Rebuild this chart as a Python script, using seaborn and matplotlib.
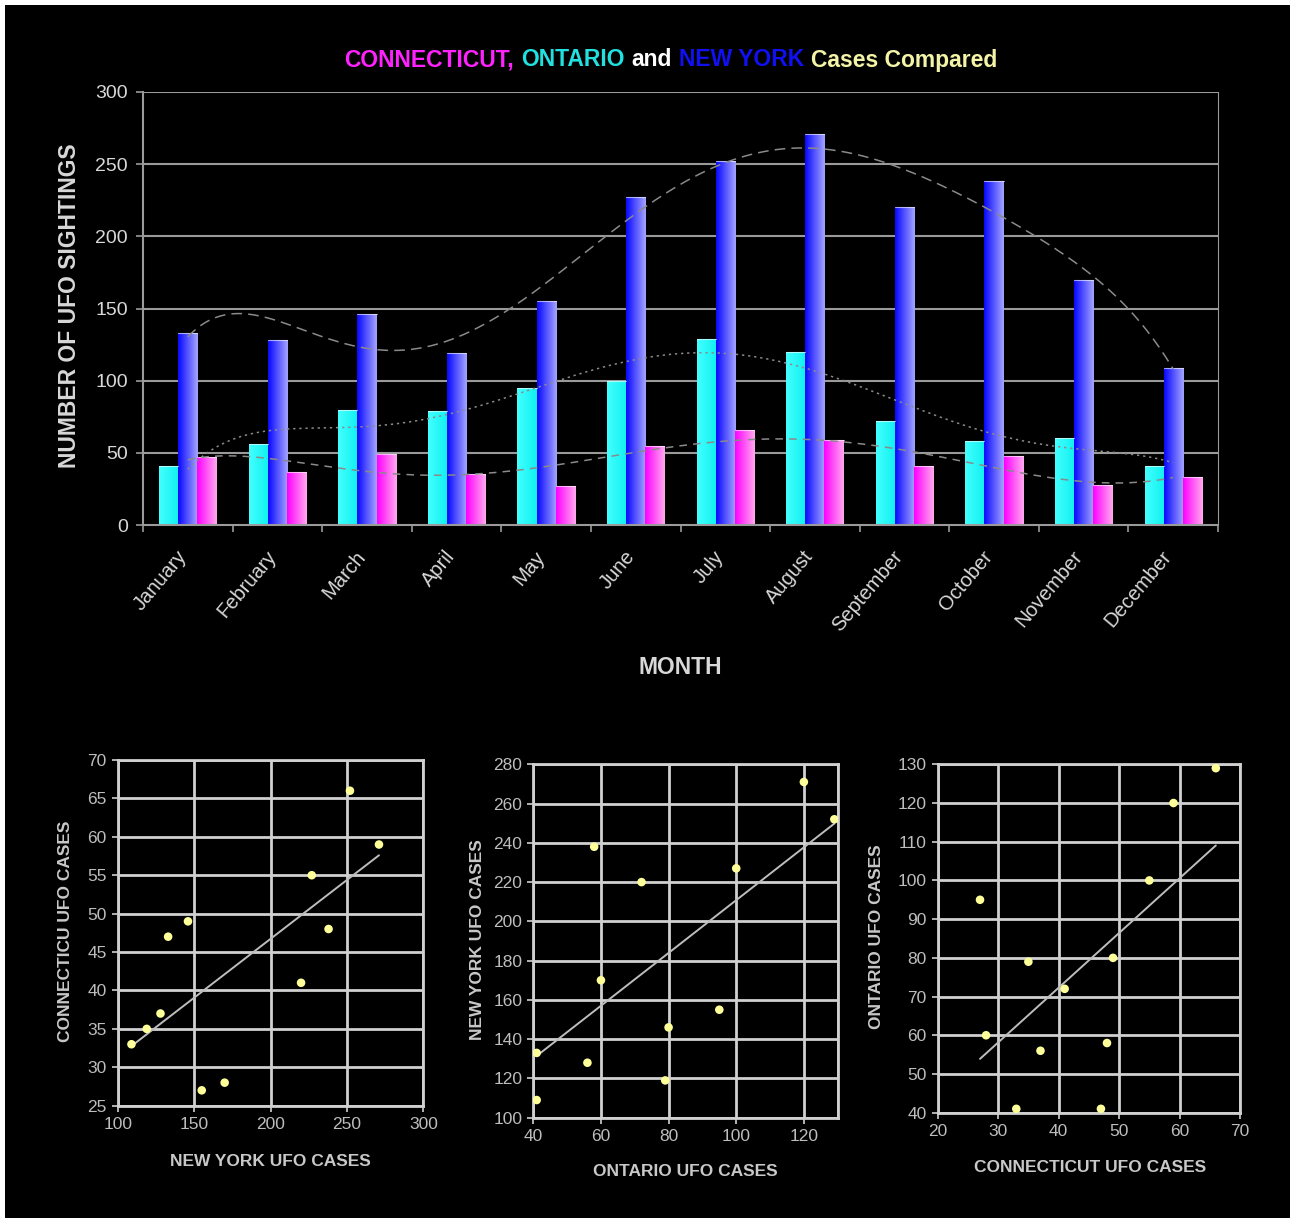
import numpy as np
import pandas as pd
import matplotlib
matplotlib.use("Agg")
import matplotlib.pyplot as plt
import matplotlib.transforms as mtransforms
import seaborn as sns
from matplotlib.offsetbox import TextArea, HPacker, AnnotationBbox
from matplotlib.patches import Rectangle
from matplotlib.colors import to_rgb

# ---------------- data ----------------
months = ["January", "February", "March", "April", "May", "June",
          "July", "August", "September", "October", "November", "December"]
ontario = [41, 56, 80, 79, 95, 100, 129, 120, 72, 58, 60, 41]
new_york = [133, 128, 146, 119, 155, 227, 252, 271, 220, 238, 170, 109]
connecticut = [47, 37, 49, 35, 27, 55, 66, 59, 41, 48, 28, 33]
series_names = ["ONTARIO", "NEW YORK", "CONNECTICUT"]
y_ticks_main = [0, 50, 100, 150, 200, 250, 300]

# ---------------- style ----------------
sns.set_theme(style="dark")
plt.rcParams["font.family"] = ["Liberation Sans", "DejaVu Sans"]
TXT = "#d8d8d8"
GRID = "#9a9a9a"

fig = plt.figure(figsize=(12.96, 12.24), dpi=100, facecolor="white")
W, H = 1296.0, 1224.0
fig.patches.append(Rectangle((5 / W, 6 / H), 1285 / W, 1213 / H, transform=fig.transFigure,
                             facecolor="black", edgecolor="none", zorder=-10))


def ax_px(left, top, right, bottom):
    return fig.add_axes([left / W, 1 - bottom / H, (right - left) / W, (bottom - top) / H])


# ---------------- top bar chart ----------------
ax = ax_px(143, 92, 1218, 525)
ax.set_facecolor("black")
df = pd.DataFrame({
    "month": months * 3,
    "value": ontario + new_york + connecticut,
    "series": sum([[s] * 12 for s in series_names], []),
})
sns.barplot(data=df, x="month", y="value", hue="series", hue_order=series_names,
            order=months, width=0.64, gap=0, ax=ax, legend=False,
            palette=["#22ffff", "#2020ff", "#ff20ff"], saturation=1, errorbar=None)

grads = {
    0: ("#44ffff", "#10f0f0"),
    1: ("#0808ff", "#a4a4ff"),
    2: ("#ff00ff", "#ffaaee"),
}
bars = [p for p in ax.patches if p.get_height() > 0]
for i, p in enumerate(bars):
    c0, c1 = grads[i // 12]
    c0, c1 = np.array(to_rgb(c0)), np.array(to_rgb(c1))
    t = np.linspace(0, 1, 64)[None, :, None]
    img = c0 + (c1 - c0) * t
    x0, w = p.get_x(), p.get_width()
    h = p.get_height()
    im = ax.imshow(img, extent=[x0, x0 + w, 0, h], aspect="auto", zorder=2,
                   interpolation="bilinear")
    im.set_clip_path(p)
    p.set_facecolor("none")
    p.set_edgecolor("none")
    ax.plot([x0, x0 + w], [h, h], color="white", lw=0.8, alpha=0.6, zorder=3)

# polynomial trendlines
xs = np.arange(12)
xf = np.linspace(0, 11, 300)
styles = {"NEW YORK": (0, (7, 4)), "ONTARIO": (0, (1.5, 2.5)), "CONNECTICUT": (0, (5, 4))}
for name, vals in zip(series_names, [ontario, new_york, connecticut]):
    coef = np.polyfit(xs, vals, 6)
    ax.plot(xf, np.polyval(coef, xf), color="#8a8a8a", lw=1.1, ls=styles[name], zorder=4)

ax.set_xlim(-0.5, 11.5)
ax.set_ylim(0, 300)
ax.set_yticks(y_ticks_main)
ax.grid(False)
for y in y_ticks_main[1:]:
    ax.axhline(y, color=GRID, lw=1.5, zorder=1)
ax.spines["top"].set_visible(False)
for s in ["left", "bottom", "right"]:
    ax.spines[s].set_visible(True)
    ax.spines[s].set_color(GRID)
ax.spines["right"].set_linewidth(0.8)
ax.spines["left"].set_linewidth(1.5)
ax.spines["bottom"].set_linewidth(1.5)
ax.tick_params(axis="y", colors=GRID, labelcolor=TXT, labelsize=14, length=5, width=1.2,
               left=True, pad=6)
ax.set_xticks(np.arange(-0.5, 12, 1), minor=True)
ax.tick_params(axis="x", which="minor", length=5, width=1.2, color=GRID, bottom=True)
ax.tick_params(axis="x", which="major", length=0, labelcolor=TXT, labelsize=14.5, pad=16)
ax.set_xticklabels(months, rotation=50, ha="right", rotation_mode="anchor")
shift = mtransforms.ScaledTranslation(-12 / 100, 0, fig.dpi_scale_trans)
for lab in ax.get_xticklabels():
    lab.set_transform(lab.get_transform() + shift)
ax.set_xlabel("")
ax.set_ylabel("")
fig.text(70 / W, 1 - 306 / H, "NUMBER OF UFO SIGHTINGS", rotation=90, ha="center",
         va="center", fontsize=16.5, fontweight="bold", color=TXT)
fig.text(680 / W, 1 - 668 / H, "MONTH", ha="center", va="center", fontsize=16.5,
         fontweight="bold", color=TXT)

# multi-coloured title
parts = [("CONNECTICUT,", "#ff22ff"), ("ONTARIO", "#22e0e0"), ("and", "#ffffff"),
         ("NEW YORK", "#1010f0"), ("Cases Compared", "#f4f4a8")]
boxes = [TextArea(t, textprops=dict(color=c, fontsize=16.5, fontweight="bold",
                                    family=["Liberation Sans", "DejaVu Sans"]))
         for t, c in parts]
pack = HPacker(children=boxes, sep=5, pad=0, align="baseline")
ab = AnnotationBbox(pack, (671 / W, 1 - 60 / H), xycoords="figure fraction",
                    frameon=False, box_alignment=(0.5, 0.5))
fig.add_artist(ab)


# ---------------- scatter plots ----------------
def scatter_panel(rect, x, y, xlim, ylim, xticks, yticks, xlabel, ylabel,
                  xlab_pos, ylab_pos):
    a = ax_px(*rect)
    a.set_facecolor("black")
    a.grid(False)
    for v in xticks + [xlim[1]]:
        a.axvline(v, color="#d0d0d0", lw=2, zorder=1)
    for v in yticks:
        a.axhline(v, color="#d0d0d0", lw=2, zorder=1)
    sns.regplot(x=np.array(x), y=np.array(y), scatter=False, ci=None, truncate=True,
                line_kws=dict(color="#bdbdbd", lw=1.4), ax=a)
    sns.scatterplot(x=x, y=y, color="#ffff99", s=38, edgecolor="none", ax=a, zorder=5)
    a.set_xlim(*xlim)
    a.set_ylim(*ylim)
    a.set_xticks(xticks)
    a.set_yticks(yticks)
    for s in a.spines.values():
        s.set_visible(True)
        s.set_color("#d0d0d0")
        s.set_linewidth(2)
    a.tick_params(colors="#d0d0d0", labelcolor="#bdbdbd", labelsize=12.5, length=4,
                  width=1.2, left=True, bottom=True, pad=4)
    a.set_xlabel("")
    a.set_ylabel("")
    fig.text(xlab_pos[0] / W, 1 - xlab_pos[1] / H, xlabel, ha="center", va="center",
             fontsize=12.5, fontweight="bold", color="#c8c8c8")
    fig.text(ylab_pos[0] / W, 1 - ylab_pos[1] / H, ylabel, ha="center", va="center",
             rotation=90, fontsize=12.5, fontweight="bold", color="#c8c8c8")
    return a


scatter_panel((117.7, 760, 423.3, 1105.7), new_york, connecticut, (100, 300), (25, 70),
              [100, 150, 200, 250, 300], [25, 30, 35, 40, 45, 50, 55, 60, 65, 70],
              "NEW YORK UFO CASES", "CONNECTICU UFO CASES", (270, 1162), (65, 931))
scatter_panel((533.3, 764.3, 837.7, 1117.7), ontario, new_york, (40, 130), (100, 280),
              [40, 60, 80, 100, 120], [100, 120, 140, 160, 180, 200, 220, 240, 260, 280],
              "ONTARIO UFO CASES", "NEW YORK UFO CASES", (685, 1171), (477, 940))
scatter_panel((937.7, 764.3, 1240, 1112.7), connecticut, ontario, (20, 70), (40, 130),
              [20, 30, 40, 50, 60, 70], [40, 50, 60, 70, 80, 90, 100, 110, 120, 130],
              "CONNECTICUT UFO CASES", "ONTARIO UFO CASES", (1090, 1168), (877, 937))

fig.savefig("out.png", dpi=100, facecolor=fig.get_facecolor())
